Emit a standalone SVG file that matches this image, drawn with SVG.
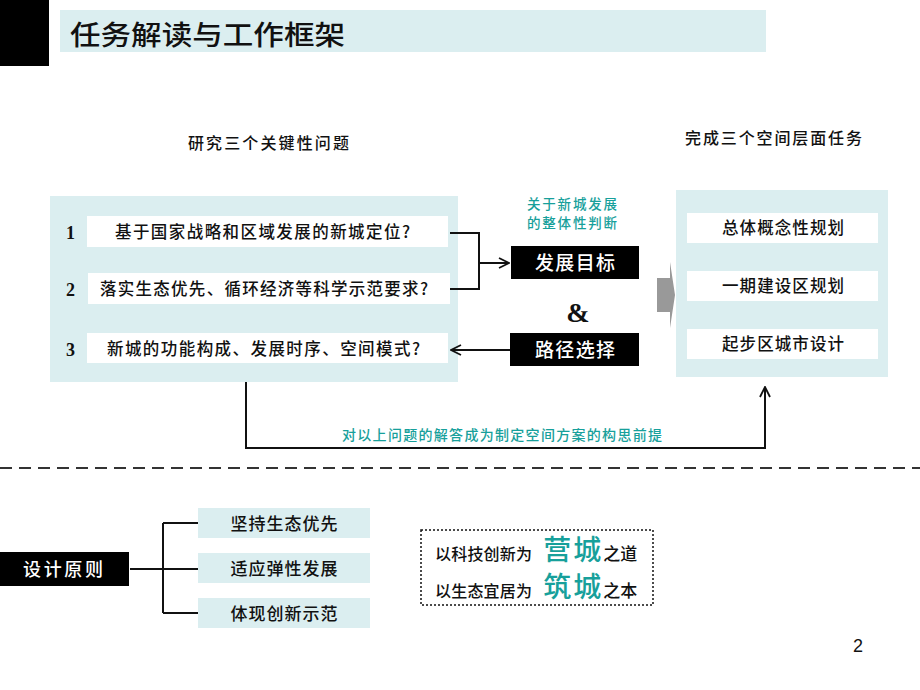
<svg xmlns="http://www.w3.org/2000/svg" width="920" height="690" viewBox="0 0 920 690">
<style>
.cj{font-family:"Noto Sans CJK SC","Noto Sans",sans-serif;font-weight:500;fill:#111}
.w{fill:#fff}
.teal{fill:#17a09b}
.panel{fill:#dbeef0}
.box{fill:#fff}
.blk{fill:#000}
.num{font-family:"Liberation Serif",serif;font-weight:bold;font-size:18px;fill:#111}
.ln{stroke:#111;stroke-width:2;fill:none}
</style>
<defs>
<marker id="ah" viewBox="0 0 12 12" refX="11" refY="6" markerWidth="12" markerHeight="12" markerUnits="userSpaceOnUse" orient="auto">
<path d="M1,1 L11,6 L1,11" fill="none" stroke="#111" stroke-width="1.8"/>
</marker>
</defs>
<rect width="920" height="690" fill="#fff"/>

<g id="header">
<rect x="0" y="0" width="49" height="66" class="blk"/>
<rect x="60" y="10" width="706" height="42" class="panel"/>
<text x="70" y="45" class="cj" font-size="27" textLength="275" lengthAdjust="spacingAndGlyphs">任务解读与工作框架</text>
</g>

<g id="heading-left"><text x="188" y="149" class="cj" font-size="16" textLength="161">研究三个关键性问题</text></g>
<g id="heading-right"><text x="685" y="144" class="cj" font-size="16" textLength="177">完成三个空间层面任务</text></g>

<g id="questions">
<rect x="50" y="196" width="408" height="186" class="panel"/>
<rect x="87" y="216" width="361" height="31" class="box"/>
<rect x="88" y="273" width="362" height="31" class="box"/>
<rect x="87" y="333" width="361" height="30" class="box"/>
<text x="66" y="239" class="num">1</text>
<text x="66" y="296" class="num">2</text>
<text x="66" y="356" class="num">3</text>
<text x="115" y="238" class="cj" font-size="16.5" textLength="295">基于国家战略和区域发展的新城定位?</text>
<text x="100" y="295" class="cj" font-size="16.5" textLength="328">落实生态优先、循环经济等科学示范要求?</text>
<text x="107" y="355" class="cj" font-size="16.5" textLength="313">新城的功能构成、发展时序、空间模式?</text>
</g>

<g id="judgement-label">
<text x="572" y="209" class="cj teal" font-size="13.5" text-anchor="middle" textLength="90">关于新城发展</text>
<text x="572" y="228" class="cj teal" font-size="13.5" text-anchor="middle" textLength="90">的整体性判断</text>
</g>

<g id="goal">
<rect x="511" y="246" width="128" height="33" class="blk"/>
<text x="575" y="270" class="cj w" font-size="19" text-anchor="middle" textLength="80">发展目标</text>
</g>
<g id="amp"><text x="578" y="322" font-family="Liberation Serif,serif" font-weight="bold" font-size="28" text-anchor="middle" fill="#111">&amp;</text></g>
<g id="path">
<rect x="510" y="333" width="129" height="33" class="blk"/>
<text x="575" y="357" class="cj w" font-size="19" text-anchor="middle" textLength="80">路径选择</text>
</g>

<g id="big-arrow">
<polygon points="657,278 670,278 670,262 675,295 670,328 670,312 657,312" fill="#999"/>
</g>

<g id="tasks">
<rect x="676" y="190" width="212" height="187" class="panel"/>
<rect x="687" y="213" width="191" height="30" class="box"/>
<rect x="687" y="271" width="191" height="30" class="box"/>
<rect x="687" y="329" width="191" height="30" class="box"/>
<text x="783" y="234" class="cj" font-size="16.5" text-anchor="middle" textLength="122">总体概念性规划</text>
<text x="783" y="292" class="cj" font-size="16.5" text-anchor="middle" textLength="122">一期建设区规划</text>
<text x="783" y="350" class="cj" font-size="16.5" text-anchor="middle" textLength="122">起步区城市设计</text>
</g>

<g id="connectors">
<path class="ln" d="M450,233 H479 V289 H450"/>
<path class="ln" d="M479,263 H509" marker-end="url(#ah)"/>
<path class="ln" d="M510,350 H451" marker-end="url(#ah)"/>
<path class="ln" d="M246,382 V448 H765 V387" marker-end="url(#ah)"/>
<path class="ln" d="M130,569 H163 M163,523 V613 M163,523 H198 M163,569 H198 M163,613 H198"/>
</g>

<g id="premise-label"><text x="342" y="440" class="cj teal" font-size="14" textLength="320">对以上问题的解答成为制定空间方案的构思前提</text></g>

<line x1="0" y1="468" x2="920" y2="468" stroke="#333" stroke-width="2" stroke-dasharray="12 7"/>

<g id="principle">
<rect x="0" y="552" width="129" height="34" class="blk"/>
<text x="63" y="576" class="cj w" font-size="18" text-anchor="middle" textLength="80">设计原则</text>
</g>
<g id="p1"><rect x="198" y="508" width="172" height="30" class="panel"/><text x="284" y="530" class="cj" font-size="17" text-anchor="middle" textLength="107">坚持生态优先</text></g>
<g id="p2"><rect x="198" y="553" width="172" height="30" class="panel"/><text x="284" y="575" class="cj" font-size="17" text-anchor="middle" textLength="107">适应弹性发展</text></g>
<g id="p3"><rect x="198" y="598" width="172" height="30" class="panel"/><text x="284" y="620" class="cj" font-size="17" text-anchor="middle" textLength="107">体现创新示范</text></g>

<g id="motto">
<rect x="421" y="530" width="232" height="75" fill="none" stroke="#111" stroke-width="1.5" stroke-dasharray="2 2"/>
<text x="435" y="560" class="cj" font-size="16"><tspan textLength="97">以科技创新为</tspan><tspan class="teal" font-size="28" dx="11" textLength="58">营城</tspan><tspan font-size="17">之道</tspan></text>
<text x="435" y="597" class="cj" font-size="16"><tspan textLength="97">以生态宜居为</tspan><tspan class="teal" font-size="28" dx="11" textLength="58">筑城</tspan><tspan font-size="17">之本</tspan></text>
</g>

<g id="page"><text x="858" y="652" font-family="Liberation Sans,sans-serif" font-size="18" fill="#111" text-anchor="middle">2</text></g>
</svg>
